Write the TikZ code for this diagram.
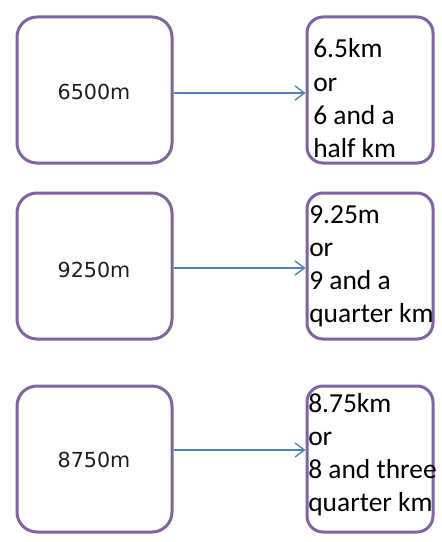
\documentclass[tikz,border=0pt]{standalone}
\usepackage{fontspec}
\setmainfont{Carlito}
\newfontfamily\valuefont{DejaVu Sans}
\usetikzlibrary{arrows.meta}
\definecolor{boxpurple}{HTML}{8064A2}
\definecolor{arrowblue}{HTML}{4F81BD}
\definecolor{inktext}{HTML}{1E1E1E}

\tikzset{
  srcbox/.style={draw=boxpurple, line width=2.25pt, rounded corners=15pt,
    minimum width=116.25pt, minimum height=109.5pt, inner sep=0pt},
  dstbox/.style={draw=boxpurple, line width=2.25pt, rounded corners=12pt,
    minimum width=94.5pt, minimum height=109.5pt, inner sep=0pt},
  srclabel/.style={font=\valuefont\fontsize{15.5pt}{18pt}\selectfont, text=inktext, inner sep=0pt},
  dstlabel/.style={anchor=base west, inner sep=0pt, text=black},
  conv/.style={draw=arrowblue, line width=1.1pt,
    -{Straight Barb[length=7pt, width=10.5pt, line width=1pt]}},
}
\newcommand{\lines}[1]{\parbox[t]{120pt}{\fontsize{20.6pt}{24.9pt}\selectfont\raggedright #1}}

\begin{document}
\begin{tikzpicture}[x=0.75pt, y=-0.75pt]
  \useasboundingbox (0,0) rectangle (442,542);

  % left column: distances in metres
  \node[srcbox] (L1) at (94.5,90) {};
  \node[srcbox] (L2) at (94.5,266) {};
  \node[srcbox] (L3) at (94.5,459) {};

  % right column: the same distances in kilometres
  \node[dstbox] (R1) at (370,90) {};
  \node[dstbox] (R2) at (370,266) {};
  \node[dstbox] (R3) at (370,459) {};

  \node[srclabel] (t1) at (94,92) {6500m};
  \node[srclabel] (t2) at (94,270) {9250m};
  \node[srclabel] (t3) at (94,460) {8750m};

  \node[dstlabel] (k1) at (313,58) {\lines{6.5km\\or\\6 and a\\half km}};
  \node[dstlabel] (k2) at (309,223) {\lines{9.25m\\or\\9 and a\\quarter km}};
  \node[dstlabel] (k3) at (308,412) {\lines{8.75km\\or\\8 and three\\quarter km}};

  % conversion arrows
  \draw[conv] (L1.east |- 0,93) -- (R1.west |- 0,93);
  \draw[conv] (L2.east |- 0,268) -- (R2.west |- 0,268);
  \draw[conv] (L3.east |- 0,450) -- (R3.west |- 0,450);
\end{tikzpicture}
\end{document}
